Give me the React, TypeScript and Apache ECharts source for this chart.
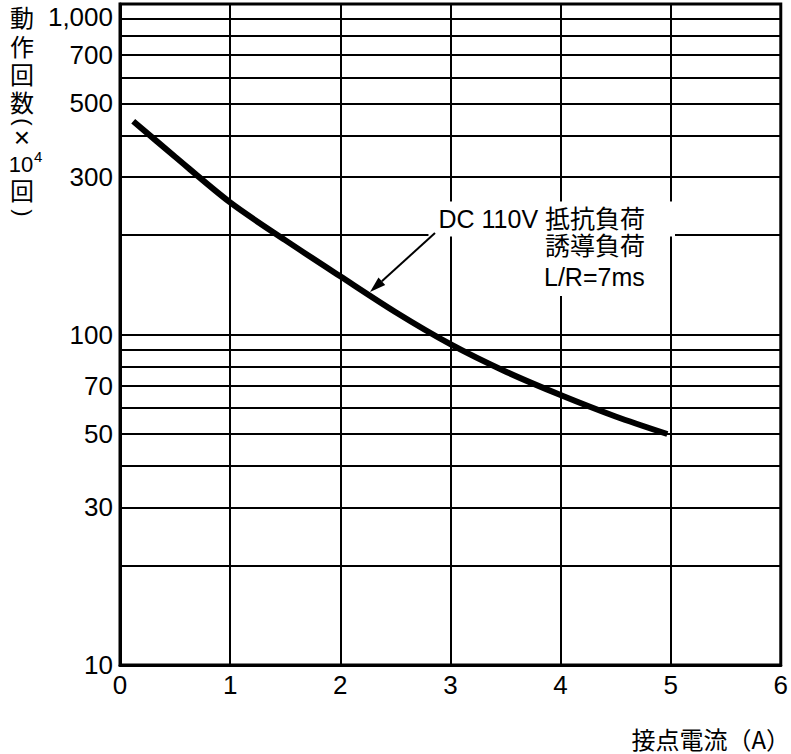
import { useEffect, useRef } from "react";
import * as echarts from "echarts";

// Curve: contact current (A) vs. operations (x10^4)
const xValues = [0.12, 0.5, 1, 1.5, 2, 2.5, 3, 3.5, 4, 4.5, 4.97];
const yValues = [442, 345, 251, 193, 150, 117, 93.5, 77.3, 65.6, 56.5, 50];

const xTickValues = [0, 1, 2, 3, 4, 5, 6];
const yGridValues = [10, 20, 30, 40, 50, 60, 70, 80, 90, 100, 200, 300, 400, 500, 600, 700, 800, 900, 1000];
const yLabelValues = [10, 30, 50, 70, 100, 300, 500, 700, 1000];

const annotationLines = ["DC 110V 抵抗負荷", "誘導負荷", "L/R=7ms"];
const yNameChars = ["動", "作", "回", "数"];
const xName = "接点電流（A）";

const LATIN = "'Liberation Sans', Arial, sans-serif";
const CJK = "'Noto Sans CJK JP', 'Noto Sans CJK SC', sans-serif";
const MIX = "'Liberation Sans', 'Noto Sans CJK JP', sans-serif";

export default function App() {
  const ref = useRef<HTMLDivElement>(null);

  useEffect(() => {
    if (!ref.current) return;
    const chart = echarts.init(ref.current, undefined, { renderer: "svg" });

    const fmt = (v: number) => v.toLocaleString("en-US");

    const markData = yGridValues.map((v) => ({
      yAxis: v,
      label: {
        show: yLabelValues.includes(v),
        formatter: fmt(v),
        verticalAlign: v === 1000 ? "top" : "middle",
      },
    }));

    const vText = (
      text: string,
      x: number,
      y: number,
      size: number,
      align = "center",
      rotation = 0
    ) => ({
      type: "text",
      z: 100,
      x,
      y,
      rotation,
      style: {
        text,
        fontSize: size,
        fontFamily: MIX,
        fill: "#000",
        align,
        verticalAlign: "middle",
      },
    });

    const headTip = [370, 292];
    const dir = [-65 / 87.8, 59 / 87.8];
    const hl = 16;
    const hw = 5;
    const base = [headTip[0] - hl * dir[0], headTip[1] - hl * dir[1]];
    const perp = [-dir[1], dir[0]];

    const option: any = {
      animation: false,
      backgroundColor: "#fff",
      grid: {
        left: 120,
        right: 8,
        top: 4,
        bottom: 89,
        show: true,
        borderColor: "#000",
        borderWidth: 3,
        containLabel: false,
      },
      xAxis: {
        type: "value",
        min: 0,
        max: 6,
        interval: 1,
        axisLine: { show: true, lineStyle: { color: "#000", width: 3 } },
        axisTick: { show: false },
        axisLabel: {
          show: true,
          color: "#000",
          fontSize: 26,
          fontFamily: LATIN,
          margin: 7,
          formatter: (v: number) => (xTickValues.includes(v) ? String(v) : ""),
        },
        splitLine: { show: true, lineStyle: { color: "#000", width: 2 } },
      },
      yAxis: {
        type: "log",
        logBase: 10,
        min: 10,
        max: 1000,
        axisLine: { show: true, lineStyle: { color: "#000", width: 3 } },
        axisTick: { show: false },
        axisLabel: { show: false },
        splitLine: { show: false },
      },
      series: [
        {
          type: "line",
          data: xValues.map((x, i) => [x, yValues[i]]),
          smooth: 0.3,
          symbol: "none",
          lineStyle: { color: "#000", width: 6, cap: "butt" },
          z: 10,
          markLine: {
            silent: true,
            symbol: ["none", "none"],
            animation: false,
            lineStyle: { color: "#000", width: 2, type: "solid" },
            label: {
              position: "start",
              distance: 7,
              color: "#000",
              fontSize: 26,
              fontFamily: LATIN,
            },
            emphasis: { disabled: true },
            data: markData,
            z: 3,
          },
        },
      ],
      graphic: [
        // Y axis name (vertical stack)
        ...yNameChars.map((c, i) => vText(c, 22, [18, 47, 75, 103][i], 24)),
        vText("(", 23, 122, 22, "center", -Math.PI / 2),
        vText("×", 22, 137, 28),
        vText("10", 21, 164, 22),
        vText("4", 34, 156, 15, "left"),
        vText("回", 22, 191, 24),
        vText(")", 23, 213, 22, "center", -Math.PI / 2),
        // X axis name
        {
          type: "text",
          z: 100,
          x: 790,
          y: 738,
          style: { text: xName, fontSize: 24, fontFamily: CJK, fill: "#000", align: "right", verticalAlign: "middle" },
        },
        // Annotation text with white background
        {
          type: "text",
          z: 100,
          x: 675,
          y: 219,
          style: {
            text: annotationLines[0],
            fontSize: 25,
            lineHeight: 25,
            fontFamily: MIX,
            fill: "#000",
            align: "right",
            verticalAlign: "middle",
            backgroundColor: "#fff",
            padding: [0, 30, 10, 10],
          },
        },
        {
          type: "text",
          z: 100,
          x: 662,
          y: 246,
          style: {
            text: annotationLines[1],
            fontSize: 25,
            lineHeight: 26,
            fontFamily: MIX,
            fill: "#000",
            align: "right",
            verticalAlign: "middle",
            backgroundColor: "#fff",
            padding: [0, 17, 0, 14],
          },
        },
        {
          type: "text",
          z: 100,
          x: 530,
          y: 277,
          style: {
            text: annotationLines[2],
            fontSize: 25,
            lineHeight: 26,
            fontFamily: MIX,
            fill: "#000",
            align: "left",
            verticalAlign: "middle",
            backgroundColor: "#fff",
            padding: [6, 25, 6, 14],
          },
        },
        // Arrow
        {
          type: "line",
          z: 100,
          shape: { x1: 435, y1: 233, x2: base[0], y2: base[1] },
          style: { stroke: "#000", lineWidth: 2 },
        },
        {
          type: "polygon",
          z: 100,
          shape: {
            points: [
              headTip,
              [base[0] + perp[0] * hw, base[1] + perp[1] * hw],
              [base[0] - perp[0] * hw, base[1] - perp[1] * hw],
            ],
          },
          style: { fill: "#000" },
        },
      ],
    };

    chart.setOption(option);
    return () => chart.dispose();
  }, []);

  return (
    <div
      ref={ref}
      style={{ position: "absolute", left: 0, top: 0, width: 791, height: 754 }}
    />
  );
}
